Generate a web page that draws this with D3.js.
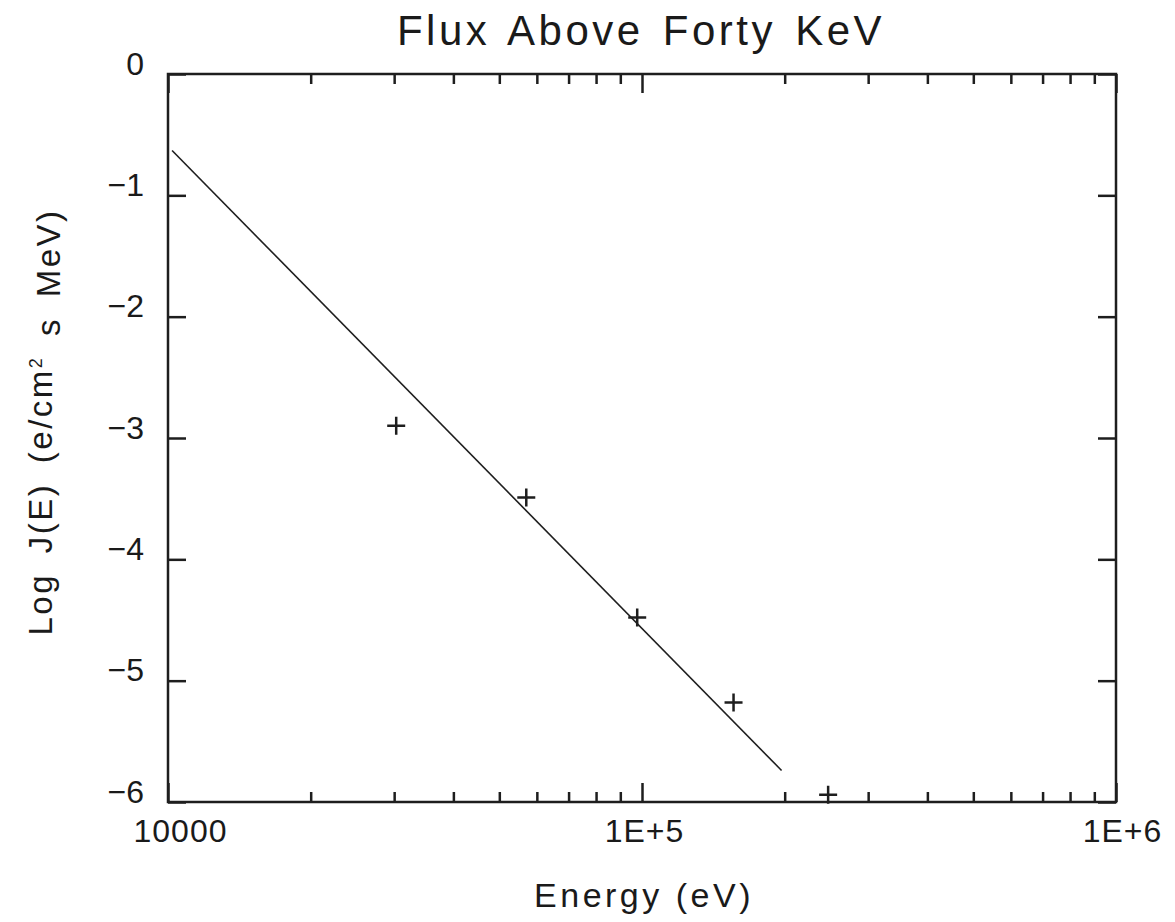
<!DOCTYPE html>
<html>
<head>
<meta charset="utf-8">
<script src="https://d3js.org/d3.v7.min.js"></script>
<style>
  body { margin: 0; background: #fff; }
  text { font-family: "Liberation Sans", Arial, sans-serif; fill: #1a1a1a; }
</style>
</head>
<body>
<script>
// data
const energy = [30300, 57000, 97700, 156000, 247000];
const logFlux = [-2.90, -3.49, -4.48, -5.18, -5.94];
const fitEnergy = [10200, 197000];
const fitLogFlux = [-0.63, -5.74];
const xTickValues = [1e4, 1e5, 1e6];
const xTickLabels = ["10000", "1E+5", "1E+6"];
const yTickValues = [0, -1, -2, -3, -4, -5, -6];

const W = 1175, H = 922;
const margin = {top: 74, right: 59, bottom: 120, left: 168},
  width = W - margin.left - margin.right,
  height = H - margin.top - margin.bottom;

const svg = d3.select("body")
.append("svg")
  .attr("width", W)
  .attr("height", H);

const g = svg.append("g")
  .attr("transform", `translate(${margin.left}, ${margin.top})`);

const x = d3.scaleLog().domain([1e4, 1e6]).range([0, width]);
const y = d3.scaleLinear().domain([-6, 0]).range([height, 0]);

const ink = "#1e1e1e";

// minor x ticks (2..9 per decade)
const minor = [];
for (let d = 1e4; d < 1e6; d *= 10)
  for (let k = 2; k <= 9; k++) minor.push(d * k);

// bottom axis, ticks point inward
g.append("g")
  .attr("transform", `translate(0, ${height})`)
  .call(d3.axisBottom(x).tickValues(minor).tickSize(-10).tickFormat(""))
  .call(a => a.select(".domain").remove());
g.append("g")
  .attr("transform", `translate(0, ${height})`)
  .call(d3.axisBottom(x).tickValues(xTickValues).tickSize(-19).tickPadding(17)
    .tickFormat((d, i) => xTickLabels[i]))
  .call(a => a.select(".domain").remove())
  .call(a => a.selectAll("text").style("font-size", "32px").style("letter-spacing", "1px")
    .attr("dx", (d, i) => i == 0 ? 12 : (i == 2 ? 6 : 2)));

// top axis
g.append("g")
  .call(d3.axisTop(x).tickValues(minor).tickSize(-10).tickFormat(""))
  .call(a => a.select(".domain").remove());
g.append("g")
  .call(d3.axisTop(x).tickValues(xTickValues).tickSize(-19).tickFormat(""))
  .call(a => a.select(".domain").remove());

// left axis, labels sit on the tick
g.append("g")
  .call(d3.axisLeft(y).tickValues(yTickValues).tickSize(-18).tickPadding(24)
    .tickFormat(d => d == 0 ? "0" : "\u2212" + Math.abs(d)))
  .call(a => a.select(".domain").remove())
  .call(a => a.selectAll("text").style("font-size", "32px").attr("dy", "0"));

// right axis
g.append("g")
  .attr("transform", `translate(${width}, 0)`)
  .call(d3.axisRight(y).tickValues(yTickValues).tickSize(-18).tickFormat(""))
  .call(a => a.select(".domain").remove());

g.selectAll(".tick line").attr("stroke", ink).attr("stroke-width", 2.5);

// frame
g.append("rect")
  .attr("width", width)
  .attr("height", height)
  .attr("fill", "none")
  .attr("stroke", ink)
  .attr("stroke-width", 2.5);

// fitted line
const fit = fitEnergy.map((e, i) => [e, fitLogFlux[i]]);
g.append("path")
  .datum(fit)
  .attr("fill", "none")
  .attr("stroke", ink)
  .attr("stroke-width", 1.6)
  .attr("d", d3.line().x(d => x(d[0])).y(d => y(d[1])));

// data crosses
const pts = energy.map((e, i) => ({e: e, v: logFlux[i]}));
g.selectAll(".pt")
  .data(pts)
  .join("path")
    .attr("class", "pt")
    .attr("transform", d => `translate(${x(d.e)}, ${y(d.v)})`)
    .attr("d", "M-9,0H9M0,-9V9")
    .attr("stroke", ink)
    .attr("stroke-width", 2.5)
    .attr("fill", "none");

// title
svg.append("text")
  .attr("x", 641)
  .attr("y", 45)
  .attr("text-anchor", "middle")
  .style("font-size", "42px")
  .style("letter-spacing", "3.5px")
  .style("word-spacing", "4px")
  .text("Flux Above Forty KeV");

// x label
svg.append("text")
  .attr("x", 644)
  .attr("y", 907)
  .attr("text-anchor", "middle")
  .style("font-size", "34px")
  .style("letter-spacing", "3.5px")
  .text("Energy (eV)");

// y label
const yl = svg.append("text")
  .attr("transform", "translate(52, 422) rotate(-90)")
  .attr("text-anchor", "middle")
  .style("font-size", "33px")
  .style("letter-spacing", "2.5px")
  .style("word-spacing", "8px");
yl.append("tspan").text("Log J(E) (e/cm");
yl.append("tspan").attr("dy", "-0.55em").style("font-size", "18px").text("2");
yl.append("tspan").attr("dy", "0.55em").text(" s MeV)");
</script>
</body>
</html>
